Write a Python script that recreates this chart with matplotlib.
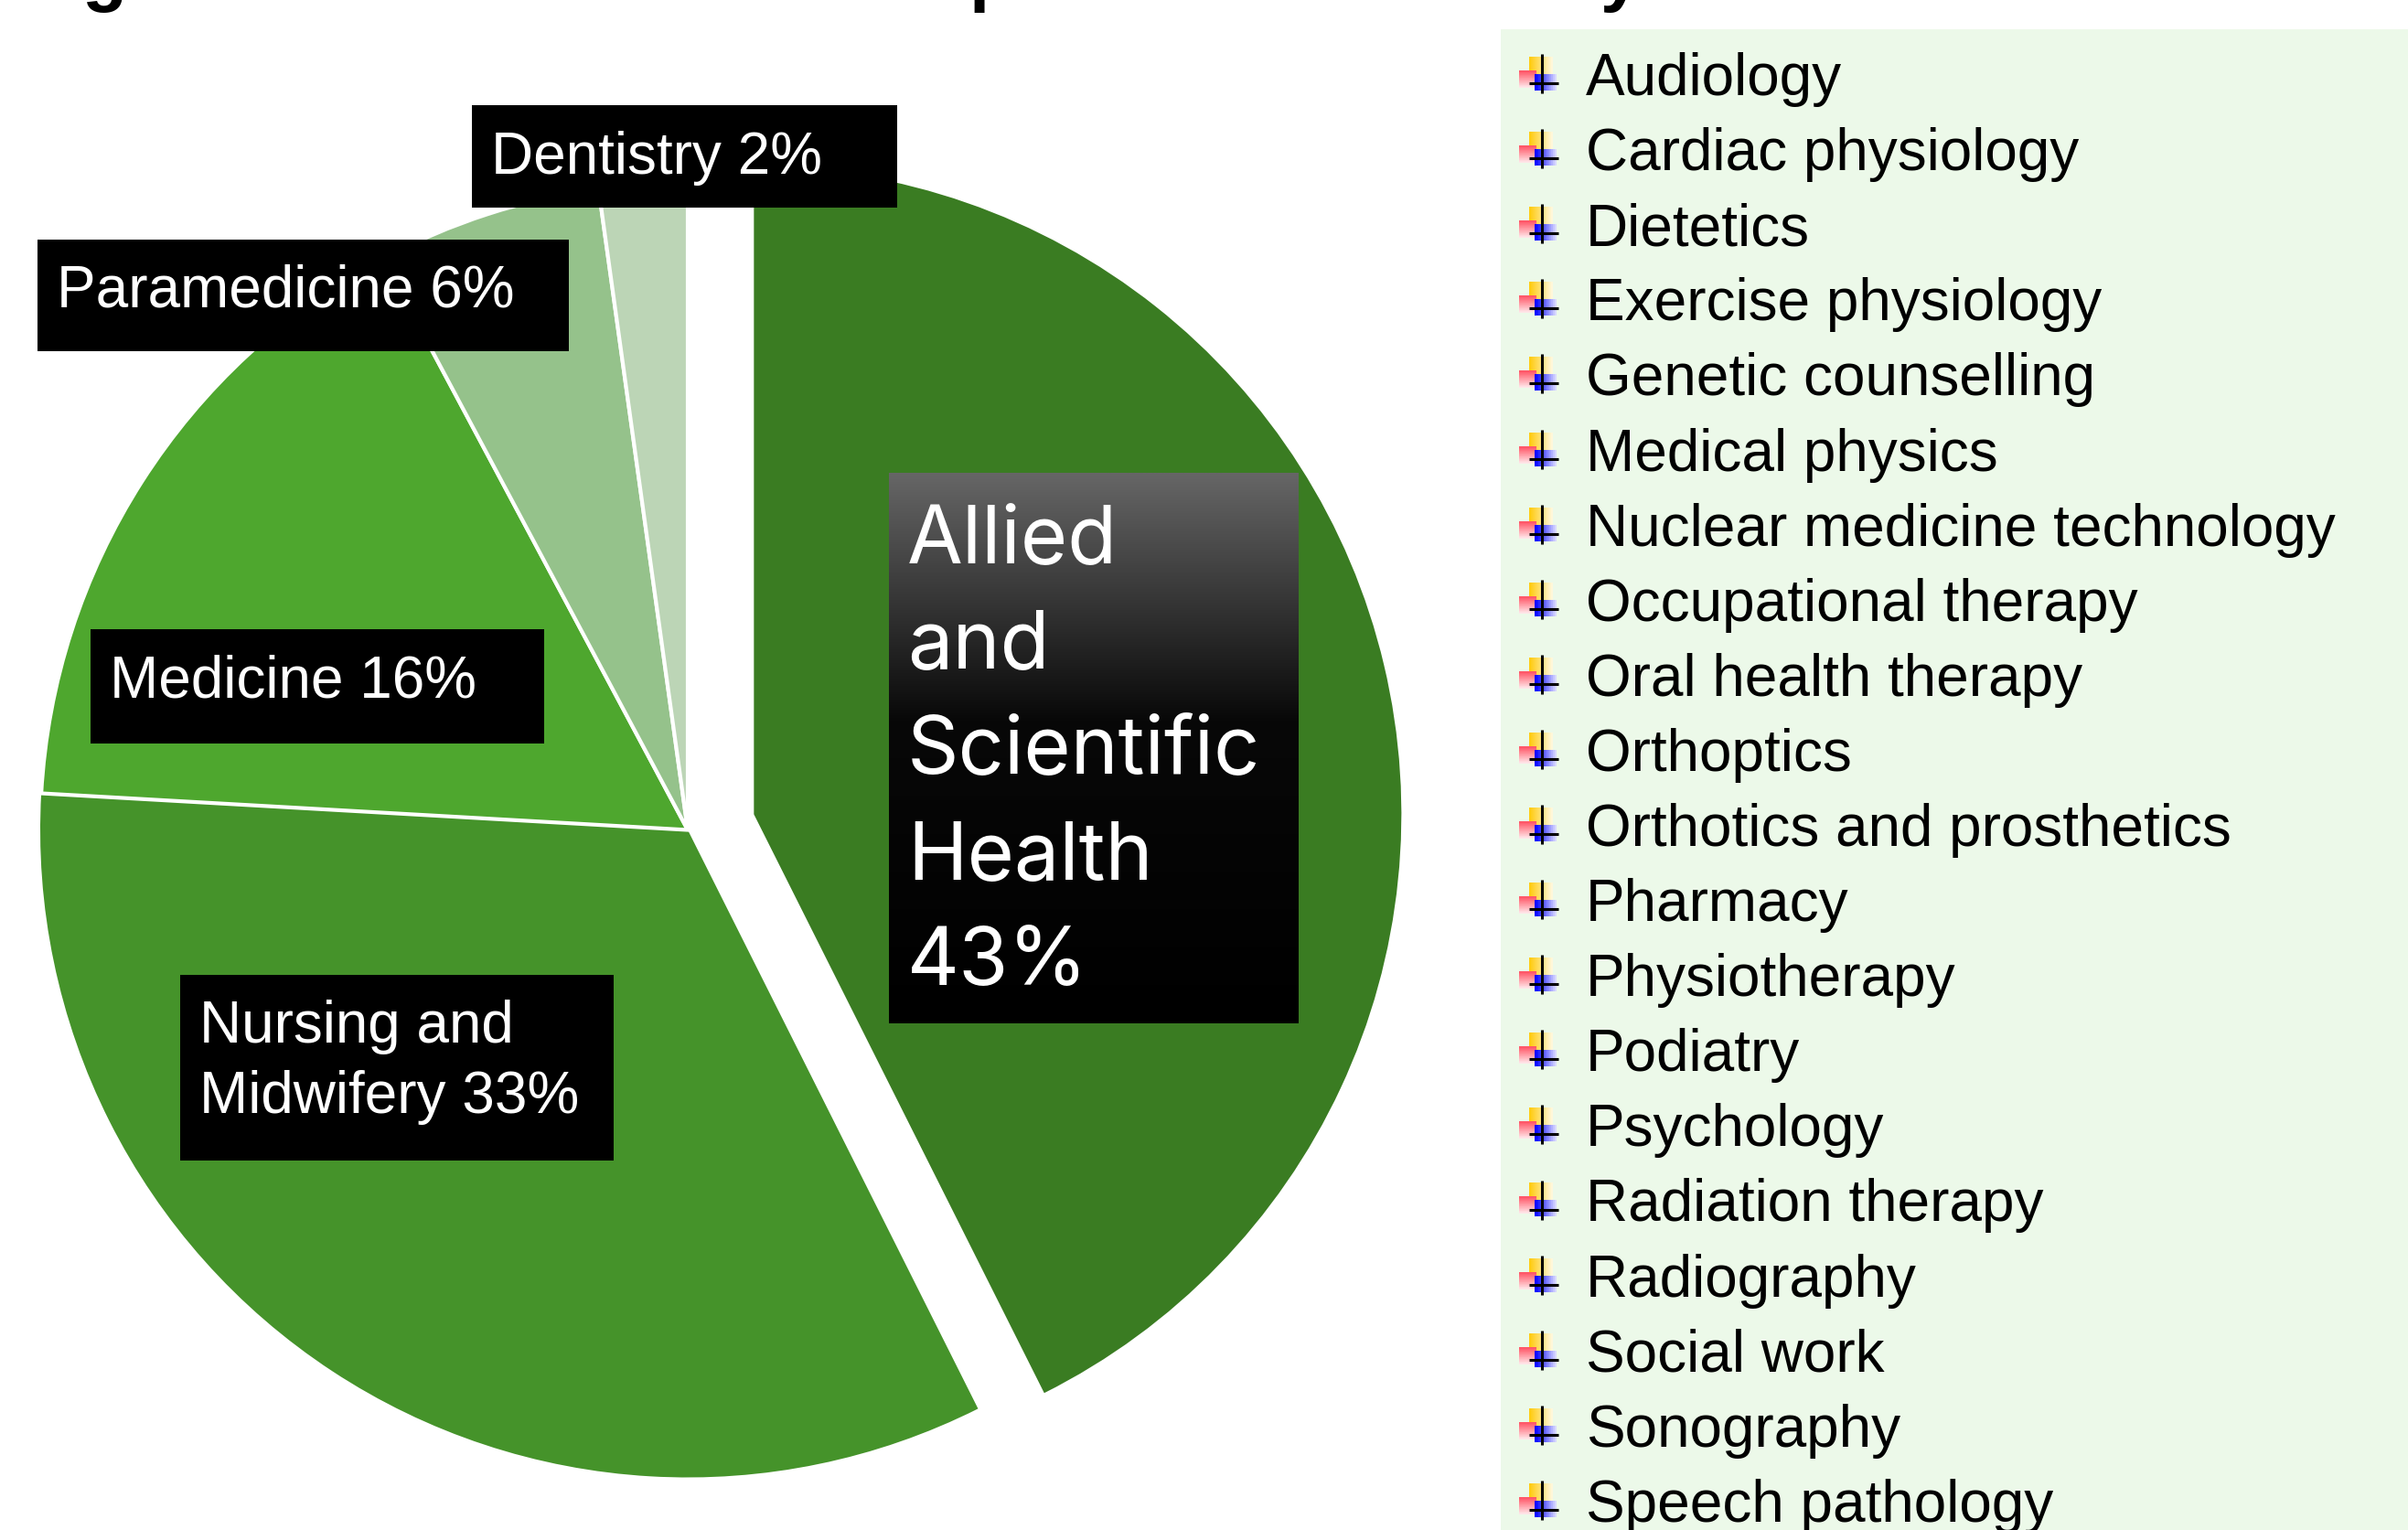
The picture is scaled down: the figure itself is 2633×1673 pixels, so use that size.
import numpy as np
import matplotlib
matplotlib.use("Agg")
import matplotlib.pyplot as plt
from matplotlib.colors import LinearSegmentedColormap

W, H = 2633, 1673

# pie data
shares = [42.6, 33.3, 16.3, 5.6, 2.2]
colors = ["#3A7C22", "#45932A", "#4EA72E", "#95C28B", "#BCD5B6"]
explode = [0.105, 0, 0, 0, 0]

# professions list on the right
professions = ["Audiology", "Cardiac physiology", "Dietetics", "Exercise physiology",
               "Genetic counselling", "Medical physics", "Nuclear medicine technology",
               "Occupational therapy", "Oral health therapy", "Orthoptics",
               "Orthotics and prosthetics", "Pharmacy", "Physiotherapy", "Podiatry",
               "Psychology", "Radiation therapy", "Radiography", "Social work",
               "Sonography", "Speech pathology"]

SANS = "Liberation Sans"

fig = plt.figure(figsize=(W / 100, H / 100), dpi=100, facecolor="white")

# pie, placed so that radius 1 is 708 pixels
cx, cy, R = 752, 907.5, 708
span = 1.25 * R
ax = fig.add_axes([(cx - span) / W, 1 - (cy + span) / H, 2 * span / W, 2 * span / H])
ax.pie(shares, colors=colors, explode=explode, startangle=90, counterclock=False,
       wedgeprops={"edgecolor": "white", "linewidth": 3})
ax.patches[0].set_edgecolor("none")
ax.patches[1].set_edgecolor("none")

# everything else is drawn in pixel coordinates
ov = fig.add_axes([0, 0, 1, 1], facecolor="none")
ov.set_xlim(0, W)
ov.set_ylim(H, 0)
ov.axis("off")


def label_box(x0, y0, x1, y1, x_text, baselines, lines):
    ov.fill([x0, x1, x1, x0], [y0, y0, y1, y1], color="black", lw=0, zorder=3)
    for b, t in zip(baselines, lines):
        ov.text(x_text, b, t, color="white", fontsize=46, family=SANS, va="baseline", zorder=5)


label_box(516, 115, 981, 227, 537, [190], ["Dentistry 2%"])
label_box(41, 262, 622, 384, 62, [335], ["Paramedicine 6%"])
label_box(99, 688, 595, 813, 120, [762], ["Medicine 16%"])
label_box(197, 1066, 671, 1269, 218, [1140, 1217], ["Nursing and", "Midwifery 33%"])

# big label with the grey to black gradient
grey = LinearSegmentedColormap.from_list("g", [(0, "#666666"), (0.45, "#080808"), (1, "#000000")])
ov.imshow(np.linspace(0, 1, 256).reshape(-1, 1), cmap=grey, extent=(972, 1420, 1119, 517),
          aspect="auto", zorder=3)
big_lines = ["Allied", "and", "Scientific", "Health", "43%"]
big_base = [615, 730, 846, 961, 1077]
for b, t in zip(big_base, big_lines):
    ov.text(992, b, t, color="white", fontsize=63.5, family="Inter", va="baseline", zorder=5)

# list panel
ov.fill([1641, W, W, 1641], [32, 32, H, H], color="#ECF9E9", lw=0, zorder=1)


def fade(c, vertical=False):
    # colour c fading towards white, left to right or top to bottom
    c = np.array(matplotlib.colors.to_rgb(c))
    a = np.linspace(1, 0.15, 12)
    a = a.reshape(-1, 1, 1) if vertical else a.reshape(1, -1, 1)
    return a * c + (1 - a) * np.array([1, 1, 1])


for i, name in enumerate(professions):
    base = 104 + 82.1 * i
    ov.imshow(fade("#FFCC11"), extent=(1672, 1698, base - 23, base - 42), aspect="auto", zorder=2)
    ov.imshow(fade("#FF5566", vertical=True), extent=(1661, 1680, base - 8, base - 27), aspect="auto", zorder=3)
    ov.imshow(fade("#0000FF"), extent=(1678, 1702, base - 5, base - 23), aspect="auto", zorder=4)
    ov.plot([1686, 1686], [base - 45, base - 2], color="black", lw=2.2, solid_capstyle="butt", zorder=5)
    ov.plot([1672, 1704], [base - 13, base - 13], color="black", lw=2.2, solid_capstyle="butt", zorder=5)
    ov.text(1734, base, name, color="black", fontsize=46, family=SANS, va="baseline", zorder=5)

ov.set_xlim(0, W)
ov.set_ylim(H, 0)

# bottom of the title line, the rest is cut off by the picture edge
for x, ch in [(114, "g"), (1084, "p"), (1772, "y")]:
    ov.text(x, -3, ch, color="black", fontsize=58, family=SANS, weight="bold",
            ha="center", va="baseline", clip_on=False)

fig.savefig("out.png", dpi=100)
